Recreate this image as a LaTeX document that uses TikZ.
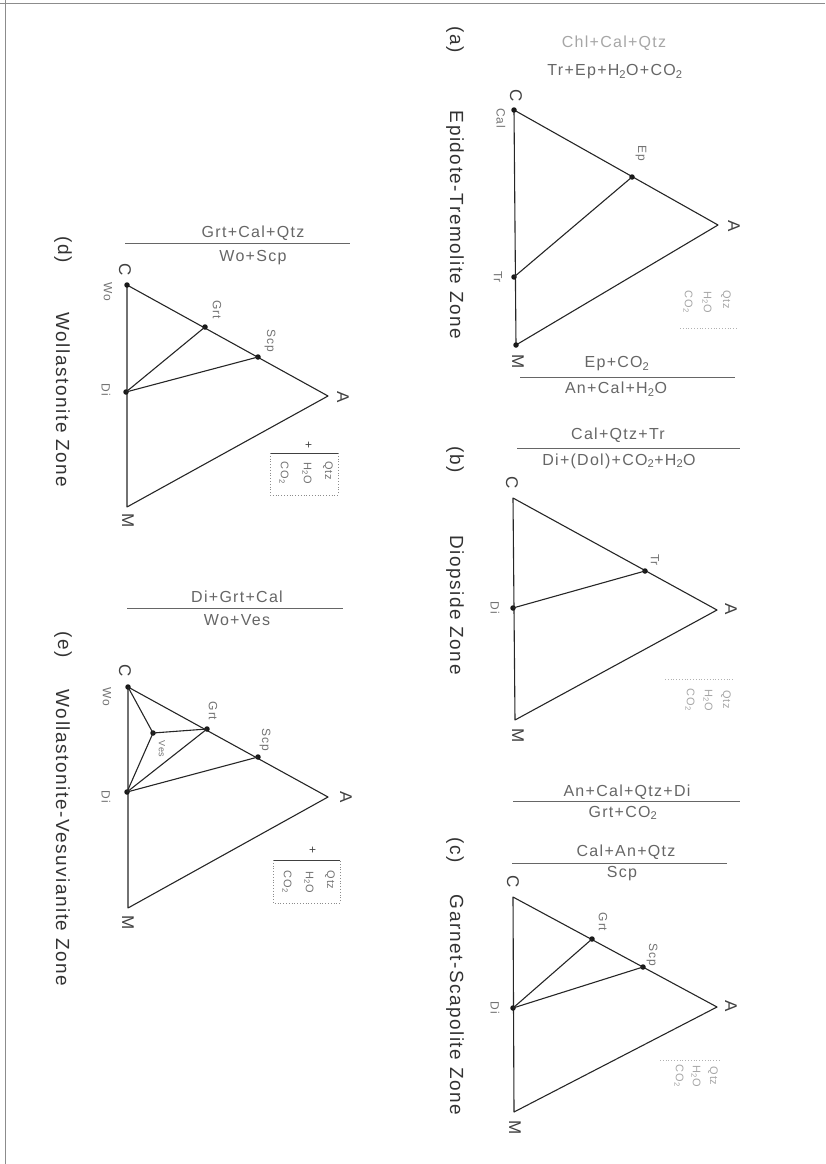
\documentclass[tikz,border=0pt]{standalone}
\usepackage{fontspec}
\setmainfont{Liberation Sans}
\newfontfamily\lsf{Liberation Sans}[LetterSpace=8]
\newcommand\ssub[1]{\textsubscript{#1}}
\begin{document}
\begin{tikzpicture}[x=1pt,y=-1pt,
  tri/.style={line width=1.1pt, black!85, line join=round},
  dot/.style={circle, fill=black!90, inner sep=0pt, minimum size=5.5pt},
  vx/.style={font=\lsf\fontsize{17}{17}\selectfont, text=black!75, rotate=-90, inner sep=0pt},
  sm/.style={font=\lsf\fontsize{12}{12}\selectfont, text=black!55, rotate=-90, inner sep=0pt},
  rx/.style={font=\lsf\fontsize{16}{16}\selectfont, text=black!60, inner sep=0pt},
  bar/.style={line width=0.8pt, black!60},
  ttl/.style={font=\lsf\fontsize{19}{19}\selectfont, text=black!80, rotate=-90, inner sep=0pt},
  lg/.style={font=\lsf\fontsize{11}{11}\selectfont, text=black!55, rotate=-90, inner sep=0pt},
  lgbox/.style={dotted, black!45, line width=0.8pt},
  frame/.style={black!45, line width=0.6pt}]
\useasboundingbox (0,0) rectangle (825,1164);
% frame
\coordinate (f1) at (0,3); \coordinate (f2) at (825,3);
\coordinate (f3) at (5,0); \coordinate (f4) at (5,1164);
\draw[frame] (f1) -- (f2);
\draw[frame] (f3) -- (f4);

% ---------- panel (a) ----------
\coordinate (aC) at (514,110); \coordinate (aM) at (516,345); \coordinate (aA) at (718,225);
\draw[tri] (aC) -- (aA) -- (aM) -- cycle;
\node[dot] (aCd) at (aC) {}; \node[dot] (aMd) at (aM) {};
\node[dot] (aTr) at (514,277) {}; \node[dot] (aEp) at (632,177) {};
\draw[tri] (aTr.center) -- (aEp.center);
\node[vx] (laC) at (516,96) {C}; \node[sm] (laCal) at (501,118) {Cal};
\node[sm] (laEp) at (641,153) {Ep}; \node[vx] (laA) at (734,226) {A};
\node[sm] (laTr) at (498,277) {Tr}; \node[vx] (laM) at (518,362) {M};
\node[rx, text=black!35] (ra1) at (614,43) {Chl+Cal+Qtz};
\node[rx] (ra2) at (615,72) {Tr+Ep+H\ssub{2}O+CO\ssub{2}};
% legend a
\node[lg, text=black!35] (laq) at (726,300) {Qtz}; \node[lg, text=black!35] (lah) at (707,302) {H\ssub{2}O};
\node[lg, text=black!35] (lac) at (688,302) {CO\ssub{2}};
\coordinate (ab2) at (680,328); \coordinate (ab3) at (737,328);
\draw[lgbox, black!30] (ab2) -- (ab3);
\node[ttl] (ta) at (455,40) {(a)};
\node[ttl] (tta) at (455,225) {Epidote-Tremolite Zone};

% reaction a-b
\node[rx] (rab1) at (617,364) {Ep+CO\ssub{2}};
\coordinate (babL) at (520,377); \coordinate (babR) at (735,377);
\draw[bar] (babL) -- (babR);
\node[rx] (rab2) at (616,389) {An+Cal+H\ssub{2}O};

% ---------- panel (b) ----------
\node[rx] (rb1) at (618,435) {Cal+Qtz+Tr};
\coordinate (bbL) at (517,448); \coordinate (bbR) at (740,448);
\draw[bar] (bbL) -- (bbR);
\node[rx] (rb2) at (619,461) {Di+(Dol)+CO\ssub{2}+H\ssub{2}O};
\coordinate (bC) at (513,498); \coordinate (bM) at (515,720); \coordinate (bA) at (717,610);
\draw[tri] (bC) -- (bA) -- (bM) -- cycle;
\node[dot] (bDi) at (513,608) {}; \node[dot] (bTr) at (645,571) {};
\draw[tri] (bDi.center) -- (bTr.center);
\node[vx] (lbC) at (512,483) {C}; \node[sm] (lbTr) at (655,560) {Tr};
\node[vx] (lbA) at (731,609) {A}; \node[sm] (lbDi) at (495,608) {Di};
\node[vx] (lbM) at (518,736) {M};
\node[lg, text=black!35] (lbq) at (726,700) {Qtz}; \node[lg, text=black!35] (lbh) at (708,700) {H\ssub{2}O};
\node[lg, text=black!35] (lbc) at (690,700) {CO\ssub{2}};
\coordinate (bb1) at (665,679); \coordinate (bb2) at (733,679);
\draw[lgbox, black!30] (bb1) -- (bb2);
\node[ttl] (tb) at (455,460) {(b)};
\node[ttl] (ttb) at (455,605) {Diopside Zone};

% ---------- panel (c) ----------
\node[rx] (rc1) at (627,792) {An+Cal+Qtz+Di};
\coordinate (cb1L) at (513,801); \coordinate (cb1R) at (740,801);
\draw[bar] (cb1L) -- (cb1R);
\node[rx] (rc2) at (623,813) {Grt+CO\ssub{2}};
\node[rx] (rc3) at (626,852) {Cal+An+Qtz};
\coordinate (cb2L) at (512,863); \coordinate (cb2R) at (727,863);
\draw[bar] (cb2L) -- (cb2R);
\node[rx] (rc4) at (622,874) {Scp};
\coordinate (cC) at (513,897); \coordinate (cM) at (514,1112); \coordinate (cA) at (717,1007);
\draw[tri] (cC) -- (cA) -- (cM) -- cycle;
\node[dot] (cDi) at (513,1008) {}; \node[dot] (cGrt) at (592,939) {}; \node[dot] (cScp) at (643,967) {};
\draw[tri] (cDi.center) -- (cGrt.center);
\draw[tri] (cDi.center) -- (cScp.center);
\node[vx] (lcC) at (513,882) {C}; \node[sm] (lcGrt) at (603,922) {Grt};
\node[sm] (lcScp) at (652,955) {Scp}; \node[vx] (lcA) at (731,1006) {A};
\node[sm] (lcDi) at (495,1008) {Di}; \node[vx] (lcM) at (515,1128) {M};
\node[lg, text=black!35] (lcq) at (713,1076) {Qtz}; \node[lg, text=black!35] (lch) at (696,1076) {H\ssub{2}O};
\node[lg, text=black!35] (lcc) at (679,1076) {CO\ssub{2}};
\coordinate (cbx1) at (660,1060); \coordinate (cbx2) at (720,1060);
\draw[lgbox, black!30] (cbx1) -- (cbx2);
\node[ttl] (tc) at (455,850) {(c)};
\node[ttl] (ttc) at (455,1005) {Garnet-Scapolite Zone};

% ---------- panel (d) ----------
\node[rx] (rd1) at (253,233) {Grt+Cal+Qtz};
\coordinate (dbL) at (125,243); \coordinate (dbR) at (350,243);
\draw[bar] (dbL) -- (dbR);
\node[rx] (rd2) at (253,258) {Wo+Scp};
\coordinate (dC) at (127,285); \coordinate (dM) at (127,507); \coordinate (dA) at (328,396);
\draw[tri] (dC) -- (dA) -- (dM) -- cycle;
\node[dot] (dCd) at (dC) {}; \node[dot] (dDi) at (126,392) {};
\node[dot] (dGrt) at (205,327) {}; \node[dot] (dScp) at (258,357) {};
\draw[tri] (dDi.center) -- (dGrt.center);
\draw[tri] (dDi.center) -- (dScp.center);
\node[vx] (ldC) at (125,270) {C}; \node[sm] (ldWo) at (108,292) {Wo};
\node[sm] (ldGrt) at (217,310) {Grt}; \node[sm] (ldScp) at (270,341) {Scp};
\node[sm] (ldDi) at (106,390) {Di}; \node[vx] (ldA) at (343,397) {A};
\node[vx] (ldM) at (128,521) {M};
\node[vx, font=\lsf\fontsize{12}{12}\selectfont] (ldp) at (308,445) {+};
\coordinate (db1) at (270,453); \coordinate (db2) at (338,453);
\coordinate (db3) at (270,495); \coordinate (db4) at (338,495);
\draw[bar, black!75] (db1) -- (db2);
\draw[lgbox] (db1) -- (db3) -- (db4) -- (db2);
\node[lg] (ldc) at (284,473) {CO\ssub{2}}; \node[lg] (ldh) at (307,473) {H\ssub{2}O};
\node[lg] (ldq) at (328,471) {Qtz};
\node[ttl] (td) at (63,250) {(d)};
\node[ttl] (ttd) at (63,400) {Wollastonite Zone};

% ---------- panel (e) ----------
\node[rx] (re1) at (237,597) {Di+Grt+Cal};
\coordinate (ebL) at (127,608); \coordinate (ebR) at (343,608);
\draw[bar] (ebL) -- (ebR);
\node[rx] (re2) at (237,620) {Wo+Ves};
\coordinate (eC) at (128,687); \coordinate (eM) at (128,908); \coordinate (eA) at (328,797);
\draw[tri] (eC) -- (eA) -- (eM) -- cycle;
\node[dot] (eCd) at (eC) {}; \node[dot] (eDi) at (127,792) {};
\node[dot] (eVes) at (153,733) {}; \node[dot] (eGrt) at (207,729) {}; \node[dot] (eScp) at (258,757) {};
\draw[tri] (eCd.center) -- (eVes.center) -- (eGrt.center);
\draw[tri] (eVes.center) -- (eDi.center);
\draw[tri] (eDi.center) -- (eGrt.center);
\draw[tri] (eDi.center) -- (eScp.center);
\node[vx] (leC) at (125,671) {C}; \node[sm] (leWo) at (107,697) {Wo};
\node[sm] (leGrt) at (213,711) {Grt}; \node[sm] (leScp) at (265,740) {Scp};
\node[sm, font=\lsf\fontsize{9}{9}\selectfont] (leVes) at (162,749) {Ves};
\node[sm] (leDi) at (106,797) {Di}; \node[vx] (leA) at (346,797) {A};
\node[vx] (leM) at (128,923) {M};
\node[vx, font=\lsf\fontsize{12}{12}\selectfont] (lep) at (312,850) {+};
\coordinate (eb1) at (273,860); \coordinate (eb2) at (340,860);
\coordinate (eb3) at (273,903); \coordinate (eb4) at (340,903);
\draw[bar, black!75] (eb1) -- (eb2);
\draw[lgbox] (eb1) -- (eb3) -- (eb4) -- (eb2);
\node[lg] (lec) at (287,882) {CO\ssub{2}}; \node[lg] (leh) at (309,882) {H\ssub{2}O};
\node[lg] (leq) at (330,880) {Qtz};
\node[ttl] (te) at (63,645) {(e)};
\node[ttl] (tte) at (63,838) {Wollastonite-Vesuvianite Zone};
\end{tikzpicture}
\end{document}
